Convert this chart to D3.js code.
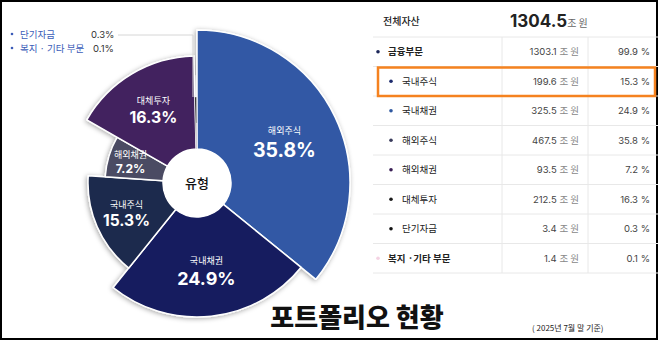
<!DOCTYPE html>
<html>
<head>
<meta charset="utf-8">
<script src="https://cdn.jsdelivr.net/npm/d3@7"></script>
<style>
  html, body { margin: 0; padding: 0; background: #fff; }
  svg { display: block; font-family: "Noto Sans CJK KR", "Noto Sans", sans-serif; }
</style>
</head>
<body>
<svg id="chart" width="658" height="340"></svg>
<script>
// portfolio data (2025년 7월 말 기준)
const totalAsset = 1304.5;
const financeAmount = 1303.1;
const financeShare = 99.9;
const welfareAmount = 1.4;
const welfareShare = 0.1;

// table order
const categories = ['국내주식', '국내채권', '해외주식', '해외채권', '대체투자', '단기자금'];
const amounts = [199.6, 325.5, 467.5, 93.5, 212.5, 3.4];
const shares = [15.3, 24.9, 35.8, 7.2, 16.3, 0.3];

// pie order (clockwise from 12 o'clock)
const pieOrder = ['해외주식', '국내채권', '국내주식', '해외채권', '대체투자', '단기자금', '복지 · 기타 부문'];

const width = 658;
const height = 340;
const cx = 197, cy = 183;
const innerR = 34;
const numFont = 'Inter, "Noto Sans", sans-serif';

const svg = d3.select('#chart');

const defs = svg.append('defs');
defs.append('filter')
  .attr('id', 'shadow')
  .attr('x', '-20%').attr('y', '-20%').attr('width', '140%').attr('height', '140%')
  .append('feDropShadow')
  .attr('dx', -1).attr('dy', 1)
  .attr('stdDeviation', 2.5)
  .attr('flood-color', '#000')
  .attr('flood-opacity', 0.35);

// border
svg.append('rect')
  .attr('x', 1).attr('y', 1)
  .attr('width', width - 2).attr('height', height - 2)
  .attr('fill', '#fff')
  .attr('stroke', '#000')
  .attr('stroke-width', 2);

// ---------- pie ----------
const pieData = pieOrder.map(name => {
  const i = categories.indexOf(name);
  return { name, share: i >= 0 ? shares[i] : welfareShare };
});

const color = d3.scaleOrdinal()
  .domain(pieOrder)
  .range(['#3059a5', '#161d5f', '#1f2a4d', '#4b4b63', '#42245f', '#141414', '#f2cfe0']);

const outer = d3.scaleOrdinal()
  .domain(pieOrder)
  .range([153, 134, 109, 92, 127, 86, 60]);

const pctSize = d3.scaleLinear()
  .domain([7, 15, 25, 36])
  .range([12, 15.5, 18, 19.5]);

const pie = d3.pie().sort(null).value(d => d.share);
const arcs = pie(pieData);

const arc = d3.arc()
  .innerRadius(innerR)
  .outerRadius(d => outer(d.data.name));

const g = svg.append('g').attr('transform', `translate(${cx},${cy})`);

g.append('g')
  .attr('filter', 'url(#shadow)')
  .selectAll('path')
  .data(arcs)
  .enter()
  .append('path')
  .attr('d', arc)
  .attr('fill', d => color(d.data.name))
  .attr('stroke', '#fff')
  .attr('stroke-width', d => d.data.share < 1 ? 0.4 : 1.5)
  .attr('stroke-linejoin', 'round');

// center hole
g.append('circle')
  .attr('r', innerR)
  .attr('fill', '#fff');

g.append('text')
  .attr('y', 5)
  .attr('text-anchor', 'middle')
  .attr('font-size', 13)
  .attr('font-weight', 500)
  .attr('fill', '#111')
  .text('유형');

// slice labels
const bigArcs = arcs.filter(d => d.data.share >= 1);
const labels = g.selectAll('.slice-label')
  .data(bigArcs)
  .enter()
  .append('g')
  .attr('class', 'slice-label')
  .attr('transform', d => {
    const r = outer(d.data.name) * 0.45 + 28;
    const a = (d.startAngle + d.endAngle) / 2;
    return `translate(${r * Math.sin(a)},${-r * Math.cos(a)})`;
  });

labels.append('text')
  .attr('y', d => -2 - pctSize(d.data.share) * 0.25)
  .attr('text-anchor', 'middle')
  .attr('font-size', 9)
  .attr('fill', '#fff')
  .text(d => d.data.name);

labels.append('text')
  .attr('y', d => pctSize(d.data.share) * 0.8)
  .attr('text-anchor', 'middle')
  .attr('font-family', numFont)
  .attr('font-size', d => pctSize(d.data.share))
  .attr('font-weight', 700)
  .attr('fill', '#fff')
  .text(d => d.data.share + '%');

// small-slice legend, top left
const smallArcs = arcs.filter(d => d.data.share < 1);
const legendY = d3.scaleBand()
  .domain(smallArcs.map(d => d.data.name))
  .range([27, 55]);

const legend = svg.selectAll('.legend')
  .data(smallArcs)
  .enter()
  .append('g')
  .attr('class', 'legend')
  .attr('transform', d => `translate(0,${legendY(d.data.name) + legendY.bandwidth() / 2})`);

legend.append('circle')
  .attr('cx', 12).attr('cy', 0)
  .attr('r', 1.3)
  .attr('fill', '#3b5cb8');

legend.append('text')
  .attr('x', 20).attr('y', 3.5)
  .attr('font-size', 9.5)
  .attr('fill', '#3b5cb8')
  .text(d => d.data.name);

legend.append('text')
  .attr('x', (d, i) => i === 0 ? 91 : 93).attr('y', 3.5)
  .attr('font-family', numFont)
  .attr('font-size', 9.5)
  .attr('fill', '#333')
  .text(d => d.data.share + '%');

// connector from legend to the thin slice
const shortArc = smallArcs[0];
const connY = legendY(shortArc.data.name) + legendY.bandwidth() / 2 + 1;
const connX = cx - 4;
svg.append('path')
  .attr('d', `M118,${connY}H${connX}V${cy - outer(shortArc.data.name)}`)
  .attr('fill', 'none')
  .attr('stroke', '#d6d6d6')
  .attr('stroke-width', 1);

// ---------- table ----------
const tableLeft = 373, tableRight = 658;
const col1 = 502, col2 = 588;

const rows = [
  { name: '금융부문', amount: financeAmount, share: financeShare, level: 0 },
  ...categories.map((c, i) => ({ name: c, amount: amounts[i], share: shares[i], level: 1 })),
  { name: '복지 ·기타 부문', amount: welfareAmount, share: welfareShare, level: 0 }
];

const bulletColor = d3.scaleOrdinal()
  .domain(rows.map(r => r.name))
  .range(['#1c2759', '#1c2a6c', '#2f58a0', '#3a3c5c', '#3a1f55', '#1a1a1a', '#111', '#f4d3e3']);

const rowY = d3.scaleBand()
  .domain(rows.map(r => r.name))
  .range([37, 273]);

const table = svg.append('g');

// header
table.append('text')
  .attr('x', 383).attr('y', 25)
  .attr('font-size', 10)
  .attr('font-weight', 500)
  .attr('fill', '#222')
  .text('전체자산');

const totalText = table.append('text')
  .attr('x', 510).attr('y', 27);
totalText.append('tspan')
  .attr('font-family', numFont)
  .attr('font-size', 17)
  .attr('font-weight', 700)
  .attr('fill', '#222')
  .text(totalAsset.toFixed(1));
totalText.append('tspan')
  .attr('font-size', 10)
  .attr('fill', '#666')
  .text('조 원');

// grid lines
table.selectAll('.hline')
  .data(rows.map(r => rowY(r.name)).concat([rowY.range()[1]]))
  .enter()
  .append('line')
  .attr('x1', tableLeft).attr('x2', tableRight)
  .attr('y1', d => d).attr('y2', d => d)
  .attr('stroke', '#e8e8e8')
  .attr('stroke-width', 1);

[col1, col2].forEach(x => {
  table.append('line')
    .attr('x1', x).attr('x2', x)
    .attr('y1', rowY.range()[0]).attr('y2', rowY.range()[1])
    .attr('stroke', '#e8e8e8')
    .attr('stroke-width', 1);
});

const row = table.selectAll('.row')
  .data(rows)
  .enter()
  .append('g')
  .attr('class', 'row')
  .attr('transform', d => `translate(0,${rowY(d.name) + rowY.bandwidth() / 2})`);

row.append('circle')
  .attr('cx', d => d.level ? 391 : 378)
  .attr('cy', 0)
  .attr('r', 1.8)
  .attr('fill', d => bulletColor(d.name));

row.append('text')
  .attr('x', d => d.level ? 402 : 388)
  .attr('y', 3.5)
  .attr('font-size', 9.5)
  .attr('font-weight', d => d.level ? 400 : 700)
  .attr('fill', '#222')
  .text(d => d.name);

const valueText = row.append('text')
  .attr('x', 579).attr('y', 3.5)
  .attr('text-anchor', 'end')
  .attr('font-size', 9.5)
  .attr('fill', '#444');
valueText.append('tspan').attr('font-family', numFont).text(d => d.amount.toFixed(1) + ' ');
valueText.append('tspan').attr('fill', '#888').text('조 원');

row.append('text')
  .attr('x', 650).attr('y', 3.5)
  .attr('text-anchor', 'end')
  .attr('font-family', numFont)
  .attr('font-size', 9.5)
  .attr('fill', '#444')
  .text(d => d.share.toFixed(1) + ' %');

// highlight box around 국내주식
const hl = '국내주식';
table.append('rect')
  .attr('x', 378).attr('y', rowY(hl) + 1)
  .attr('width', 277).attr('height', rowY.bandwidth() - 1)
  .attr('fill', 'none')
  .attr('stroke', '#f5821f')
  .attr('stroke-width', 2.5);

// ---------- title ----------
svg.append('text')
  .attr('x', 357).attr('y', 327)
  .attr('text-anchor', 'middle')
  .attr('font-size', 26)
  .attr('font-weight', 900)
  .attr('fill', '#111')
  .text('포트폴리오 현황');

svg.append('text')
  .attr('x', 532).attr('y', 331)
  .attr('font-size', 8)
  .attr('fill', '#222')
  .text('( 2025년 7월 말 기준)');
</script>
</body>
</html>
